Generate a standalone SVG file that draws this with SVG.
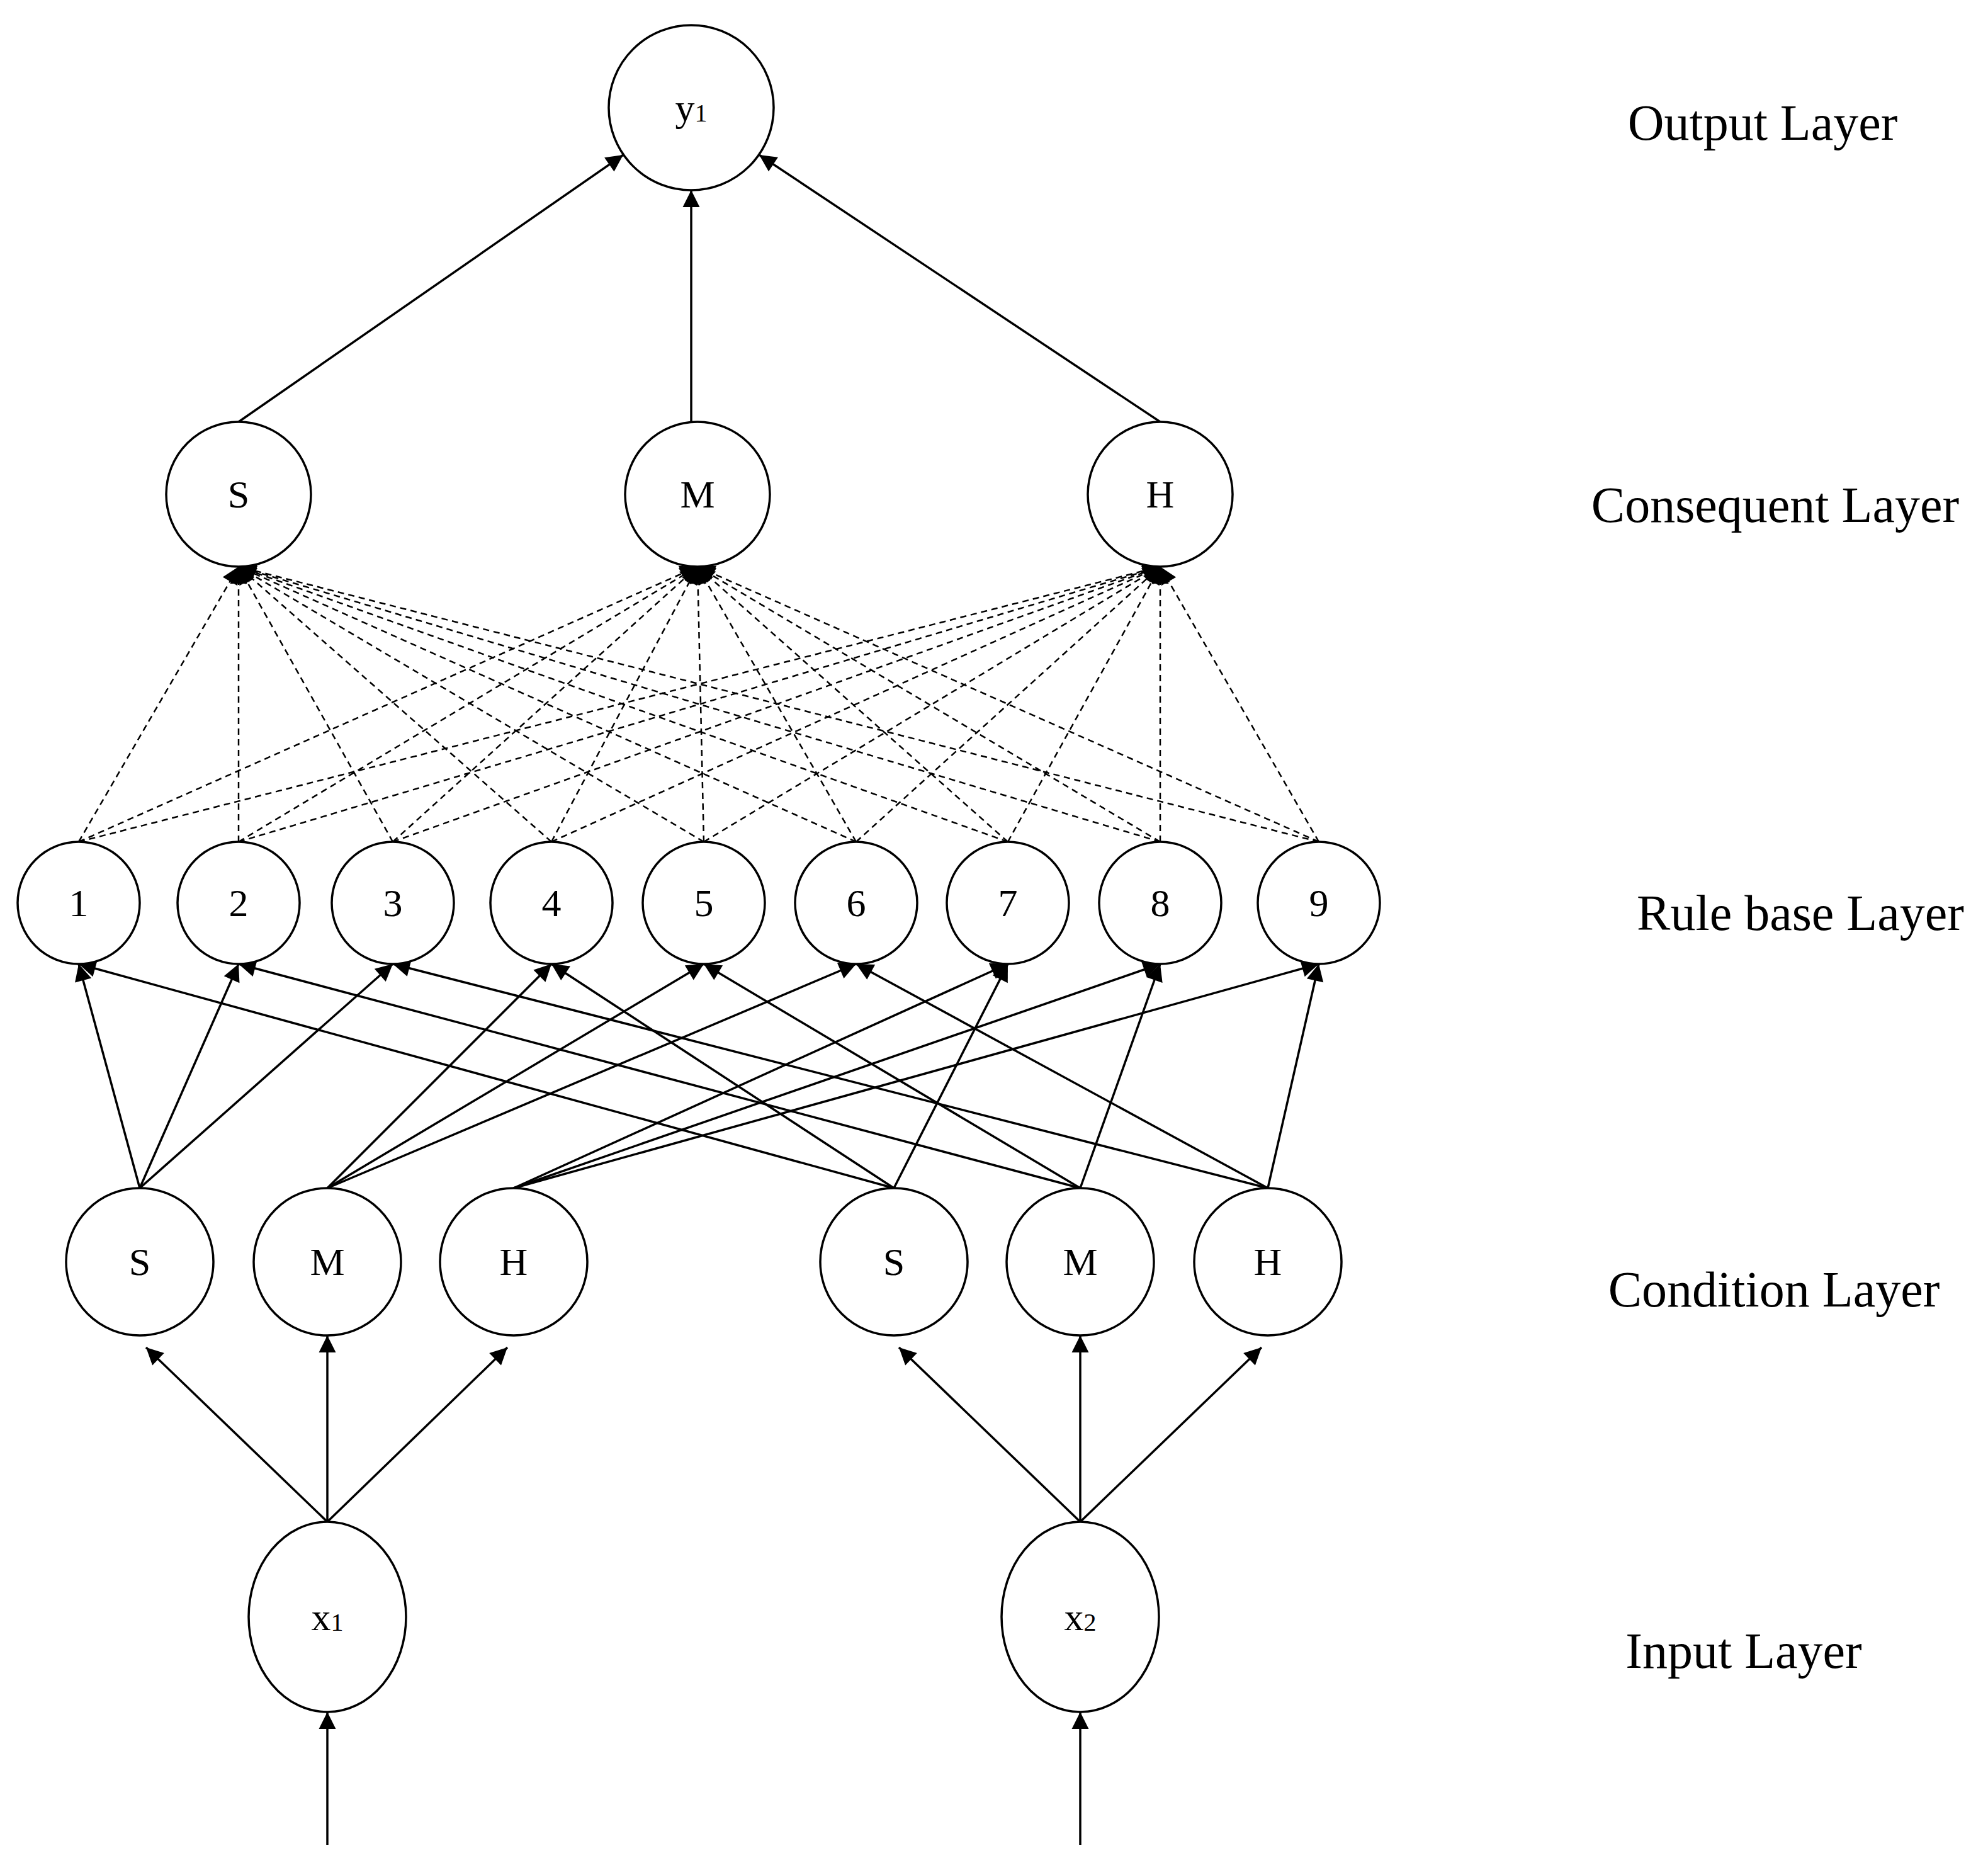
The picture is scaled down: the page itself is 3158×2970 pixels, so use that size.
<svg xmlns="http://www.w3.org/2000/svg" width="3158" height="2970" viewBox="0 0 3158 2970">
<style>
.n{fill:#fff;stroke:#000;stroke-width:3.5}
.t{font-family:"Liberation Serif",serif;font-size:62px;text-anchor:middle;dominant-baseline:central}
.l{font-family:"Liberation Serif",serif;font-size:80px;text-anchor:middle;dominant-baseline:central}
.e{stroke:#000;stroke-width:3.5;fill:none;marker-end:url(#a)}
.d{stroke:#000;stroke-width:2.5;fill:none;stroke-dasharray:10 7;marker-end:url(#a)}
</style>
<defs><marker id="a" viewBox="0 0 10 10" refX="10" refY="5" markerWidth="9" markerHeight="9" markerUnits="userSpaceOnUse" orient="auto" style="overflow:visible"><path d="M0,0L10,5L0,10z" transform="scale(3)" transform-origin="10 5"/></marker></defs>
<rect width="3158" height="2970" fill="#fff"/>
<g id="connectors">
<line class="e" x1="379" y1="670" x2="990" y2="246"/>
<line class="e" x1="1098" y1="670" x2="1098" y2="302"/>
<line class="e" x1="1843" y1="670" x2="1206" y2="246"/>
<g>
<line class="d" x1="125" y1="1337" x2="379" y2="900"/><line class="d" x1="125" y1="1337" x2="1108" y2="900"/><line class="d" x1="125" y1="1337" x2="1843" y2="900"/>
<line class="d" x1="379" y1="1337" x2="379" y2="900"/><line class="d" x1="379" y1="1337" x2="1108" y2="900"/><line class="d" x1="379" y1="1337" x2="1843" y2="900"/>
<line class="d" x1="624" y1="1337" x2="379" y2="900"/><line class="d" x1="624" y1="1337" x2="1108" y2="900"/><line class="d" x1="624" y1="1337" x2="1843" y2="900"/>
<line class="d" x1="876" y1="1337" x2="379" y2="900"/><line class="d" x1="876" y1="1337" x2="1108" y2="900"/><line class="d" x1="876" y1="1337" x2="1843" y2="900"/>
<line class="d" x1="1118" y1="1337" x2="379" y2="900"/><line class="d" x1="1118" y1="1337" x2="1108" y2="900"/><line class="d" x1="1118" y1="1337" x2="1843" y2="900"/>
<line class="d" x1="1360" y1="1337" x2="379" y2="900"/><line class="d" x1="1360" y1="1337" x2="1108" y2="900"/><line class="d" x1="1360" y1="1337" x2="1843" y2="900"/>
<line class="d" x1="1601" y1="1337" x2="379" y2="900"/><line class="d" x1="1601" y1="1337" x2="1108" y2="900"/><line class="d" x1="1601" y1="1337" x2="1843" y2="900"/>
<line class="d" x1="1843" y1="1337" x2="379" y2="900"/><line class="d" x1="1843" y1="1337" x2="1108" y2="900"/><line class="d" x1="1843" y1="1337" x2="1843" y2="900"/>
<line class="d" x1="2095" y1="1337" x2="379" y2="900"/><line class="d" x1="2095" y1="1337" x2="1108" y2="900"/><line class="d" x1="2095" y1="1337" x2="1843" y2="900"/>
</g>
<line class="e" x1="222" y1="1887" x2="125" y2="1531"/><line class="e" x1="222" y1="1887" x2="379" y2="1531"/><line class="e" x1="222" y1="1887" x2="624" y2="1531"/>
<line class="e" x1="520" y1="1887" x2="876" y2="1531"/><line class="e" x1="520" y1="1887" x2="1118" y2="1531"/><line class="e" x1="520" y1="1887" x2="1360" y2="1531"/>
<line class="e" x1="816" y1="1887" x2="1601" y2="1531"/><line class="e" x1="816" y1="1887" x2="1843" y2="1531"/><line class="e" x1="816" y1="1887" x2="2095" y2="1531"/>
<line class="e" x1="1420" y1="1887" x2="125" y2="1531"/><line class="e" x1="1420" y1="1887" x2="876" y2="1531"/><line class="e" x1="1420" y1="1887" x2="1601" y2="1531"/>
<line class="e" x1="1716" y1="1887" x2="379" y2="1531"/><line class="e" x1="1716" y1="1887" x2="1118" y2="1531"/><line class="e" x1="1716" y1="1887" x2="1843" y2="1531"/>
<line class="e" x1="2014" y1="1887" x2="624" y2="1531"/><line class="e" x1="2014" y1="1887" x2="1360" y2="1531"/><line class="e" x1="2014" y1="1887" x2="2095" y2="1531"/>
<line class="e" x1="520" y1="2417" x2="232" y2="2140"/><line class="e" x1="520" y1="2417" x2="520" y2="2121"/><line class="e" x1="520" y1="2417" x2="806" y2="2140"/>
<line class="e" x1="1716" y1="2417" x2="1428" y2="2140"/><line class="e" x1="1716" y1="2417" x2="1716" y2="2121"/><line class="e" x1="1716" y1="2417" x2="2004" y2="2140"/>
<line class="e" x1="520" y1="2930" x2="520" y2="2719"/><line class="e" x1="1716" y1="2930" x2="1716" y2="2719"/>
</g>
<g id="y1"><circle class="n" cx="1098" cy="171" r="131"/><text class="t" x="1098" y="171">y<tspan font-size="40" dy="8">1</tspan></text></g>
<g id="cS"><circle class="n" cx="379" cy="785" r="115"/><text class="t" x="379" y="785">S</text></g>
<g id="cM"><circle class="n" cx="1108" cy="785" r="115"/><text class="t" x="1108" y="785">M</text></g>
<g id="cH"><circle class="n" cx="1843" cy="785" r="115"/><text class="t" x="1843" y="785">H</text></g>
<g id="r1"><circle class="n" cx="125" cy="1434" r="97"/><text class="t" x="125" y="1434">1</text></g>
<g id="r2"><circle class="n" cx="379" cy="1434" r="97"/><text class="t" x="379" y="1434">2</text></g>
<g id="r3"><circle class="n" cx="624" cy="1434" r="97"/><text class="t" x="624" y="1434">3</text></g>
<g id="r4"><circle class="n" cx="876" cy="1434" r="97"/><text class="t" x="876" y="1434">4</text></g>
<g id="r5"><circle class="n" cx="1118" cy="1434" r="97"/><text class="t" x="1118" y="1434">5</text></g>
<g id="r6"><circle class="n" cx="1360" cy="1434" r="97"/><text class="t" x="1360" y="1434">6</text></g>
<g id="r7"><circle class="n" cx="1601" cy="1434" r="97"/><text class="t" x="1601" y="1434">7</text></g>
<g id="r8"><circle class="n" cx="1843" cy="1434" r="97"/><text class="t" x="1843" y="1434">8</text></g>
<g id="r9"><circle class="n" cx="2095" cy="1434" r="97"/><text class="t" x="2095" y="1434">9</text></g>
<g id="S1"><circle class="n" cx="222" cy="2004" r="117"/><text class="t" x="222" y="2004">S</text></g>
<g id="M1"><circle class="n" cx="520" cy="2004" r="117"/><text class="t" x="520" y="2004">M</text></g>
<g id="H1"><circle class="n" cx="816" cy="2004" r="117"/><text class="t" x="816" y="2004">H</text></g>
<g id="S2"><circle class="n" cx="1420" cy="2004" r="117"/><text class="t" x="1420" y="2004">S</text></g>
<g id="M2"><circle class="n" cx="1716" cy="2004" r="117"/><text class="t" x="1716" y="2004">M</text></g>
<g id="H2"><circle class="n" cx="2014" cy="2004" r="117"/><text class="t" x="2014" y="2004">H</text></g>
<g id="x1"><ellipse class="n" cx="520" cy="2568" rx="125" ry="151"/><text class="t" x="520" y="2568">x<tspan font-size="40" dy="8">1</tspan></text></g>
<g id="x2"><ellipse class="n" cx="1716" cy="2568" rx="125" ry="151"/><text class="t" x="1716" y="2568">x<tspan font-size="40" dy="8">2</tspan></text></g>
<g id="labels">
<text class="l" x="2800" y="195">Output Layer</text>
<text class="l" x="2820" y="802">Consequent Layer</text>
<text class="l" x="2860" y="1450">Rule base Layer</text>
<text class="l" x="2818" y="2048">Condition Layer</text>
<text class="l" x="2770" y="2622">Input Layer</text>
</g>
</svg>
